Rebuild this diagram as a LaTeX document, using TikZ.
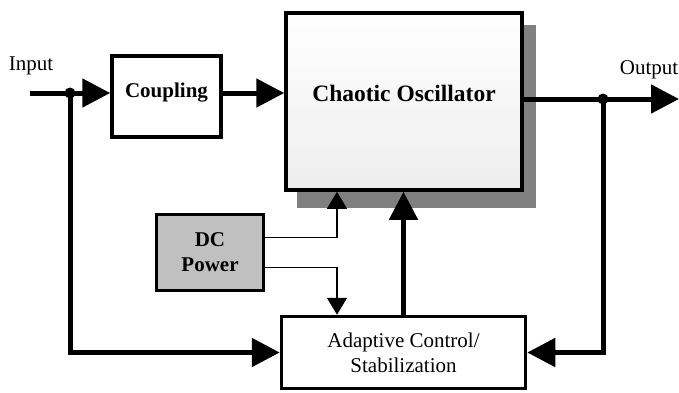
\documentclass[tikz,border=0pt]{standalone}
\usepackage{fontspec}
\setmainfont{Liberation Serif}
\usetikzlibrary{arrows.meta}
\definecolor{shadowgray}{HTML}{808080}
\definecolor{dcgray}{HTML}{C0C0C0}
\begin{document}
\begin{tikzpicture}[x=1pt,y=-1pt,
 box/.style={draw=black, line width=3.5pt, rectangle, inner sep=0pt, align=center, font=\fontsize{21}{25}\selectfont},
 boldbox/.style={box, font=\bfseries\fontsize{21}{25}\selectfont},
 bigline/.style={line width=5pt},
 bigarrow/.style={line width=5pt, -{Triangle[length=28pt,width=28pt]}},
 smallarrow/.style={line width=1.5pt, -{Triangle[length=17pt,width=20pt]}},
 lbl/.style={font=\fontsize{21}{25}\selectfont, inner sep=0pt}
]
\useasboundingbox (0,0) rectangle (679,392);
% shadow of the oscillator
\fill[shadowgray] (297,25) rectangle (536,208);
\node[boldbox, minimum width=236pt, minimum height=177pt, top color=white, bottom color=black!7,
      font=\bfseries\fontsize{23.5}{28}\selectfont] (osc) at (404,101.5)
      {\raisebox{8pt}[\height][\depth]{Chaotic Oscillator}};
\node[boldbox, fill=white, minimum width=109pt, minimum height=81pt] (coup) at (166.5,96.5)
      {\raisebox{4pt}[\height][\depth]{Coupling}};
\node[boldbox, fill=dcgray, minimum width=107pt, minimum height=76pt] (dc) at (210,252.5) {DC\\Power};
\node[box, fill=white, minimum width=244pt, minimum height=72pt] (adapt) at (403.5,352.5)
      {Adaptive Control/\\Stabilization};
\node[lbl] (inlabel) at (31,66) {Input};
\node[lbl] (outlabel) at (649,70) {Output};
% coordinates
\coordinate (inpt) at (30,93);
\coordinate (j1) at (70,93);
\coordinate (outpt) at (679,99);
\coordinate (j2) at (603,99);
% connectors
\draw[bigarrow] (inpt) -- (inpt -| coup.west);
\draw[bigarrow] (coup.east |- inpt) -- (osc.west |- inpt);
\draw[bigarrow] (osc.east |- outpt) -- (outpt);
\draw[bigarrow] (j1) |- (adapt.west);
\draw[bigarrow] (j2) |- (adapt.east);
\draw[bigarrow] (adapt.north) -- (adapt.north |- osc.south);
\draw[smallarrow] ([yshift=15pt]dc.east) -| ([xshift=-67pt]osc.south);
\draw[smallarrow] ([yshift=-15pt]dc.east) -| ([xshift=-66.5pt]adapt.north);
\fill (j1) circle (5.5pt);
\fill (j2) circle (5.5pt);
\end{tikzpicture}
\end{document}
